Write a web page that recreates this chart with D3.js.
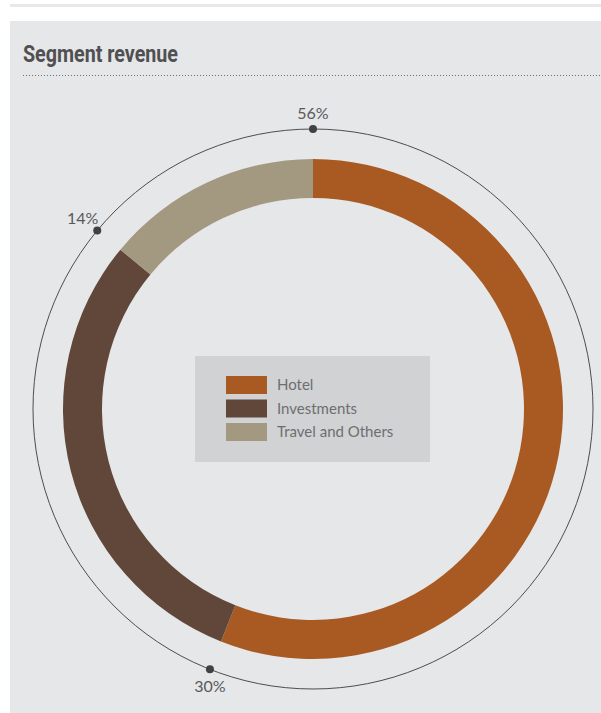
<!DOCTYPE html>
<html>
<head>
<meta charset="utf-8">
<script src="https://cdn.jsdelivr.net/npm/d3@7"></script>
<style>
  body { margin: 0; background: #ffffff; }
  svg { display: block; }
</style>
</head>
<body>
<script>
// Data
var segments = ["Hotel", "Investments", "Travel and Others"];
var shares = [56, 30, 14];
var colors = ["#a85a22", "#61473a", "#a39880"];

var width = 601, height = 713;
var cx = 313, cy = 409;
var outerR = 250, innerR = 211, ringR = 280;

var svg = d3.select("body").append("svg")
  .attr("width", width)
  .attr("height", height);

// top rule + panel
svg.append("rect").attr("x", 10).attr("y", 4).attr("width", width - 10).attr("height", 3).attr("fill", "#e8e8e8");
svg.append("rect").attr("x", 10).attr("y", 21).attr("width", width - 10).attr("height", height - 21).attr("fill", "#e6e7e8");

// title
svg.append("text")
  .attr("x", 23).attr("y", 62)
  .attr("font-family", "'Liberation Sans Narrow', 'Roboto', sans-serif")
  .attr("font-weight", "bold")
  .attr("font-size", "23px")
  .attr("fill", "#505052")
  .attr("textLength", 155)
  .attr("lengthAdjust", "spacingAndGlyphs")
  .text("Segment revenue");

svg.append("line")
  .attr("x1", 23).attr("x2", width).attr("y1", 75.5).attr("y2", 75.5)
  .attr("stroke", "#6d6e71").attr("stroke-width", 1)
  .attr("stroke-dasharray", "1,2");

var data = segments.map(function(s, i) { return {name: s, value: shares[i], color: colors[i]}; });

var pie = d3.pie().sort(null).value(function(d) { return d.value; });
var arcs = pie(data);

var arc = d3.arc().innerRadius(innerR).outerRadius(outerR);

var g = svg.append("g").attr("transform", "translate(" + cx + "," + cy + ")");

// outer thin ring
g.append("circle").attr("r", ringR).attr("fill", "none").attr("stroke", "#4d4d4f").attr("stroke-width", 1);

g.selectAll("path.seg")
  .data(arcs)
  .enter()
  .append("path")
  .attr("class", "seg")
  .attr("d", arc)
  .attr("fill", function(d) { return d.data.color; });

// markers at segment starts
function pos(a, r) { return [r * Math.sin(a), -r * Math.cos(a)]; }

g.selectAll("circle.dot")
  .data(arcs)
  .enter()
  .append("circle")
  .attr("class", "dot")
  .attr("cx", function(d) { return pos(d.startAngle, ringR)[0]; })
  .attr("cy", function(d) { return pos(d.startAngle, ringR)[1]; })
  .attr("r", 4)
  .attr("fill", "#414042");

// label placement per segment
var labelOffsets = [
  {dx: 0, dy: -10, anchor: "middle"},
  {dx: 0, dy: 23, anchor: "middle"},
  {dx: 1, dy: -7, anchor: "end"}
];

g.selectAll("text.pct")
  .data(arcs)
  .enter()
  .append("text")
  .attr("class", "pct")
  .attr("x", function(d, i) { return pos(d.startAngle, ringR)[0] + labelOffsets[i].dx; })
  .attr("y", function(d, i) { return pos(d.startAngle, ringR)[1] + labelOffsets[i].dy; })
  .attr("text-anchor", function(d, i) { return labelOffsets[i].anchor; })
  .attr("font-family", "Lato, 'Open Sans', sans-serif")
  .attr("font-size", "16px")
  .attr("fill", "#58595b")
  .text(function(d) { return d.data.value + "%"; });

// legend
var legend = svg.append("g").attr("transform", "translate(195,356)");
legend.append("rect").attr("width", 235).attr("height", 106).attr("fill", "#d1d2d4");

var items = legend.selectAll("g.item")
  .data(data)
  .enter()
  .append("g")
  .attr("class", "item")
  .attr("transform", function(d, i) { return "translate(31," + (20 + i * 23.5) + ")"; });

items.append("rect").attr("width", 41).attr("height", 18).attr("fill", function(d) { return d.color; });
items.append("text")
  .attr("x", 51).attr("y", 14)
  .attr("font-family", "Lato, 'Open Sans', sans-serif")
  .attr("font-size", "15px")
  .attr("fill", "#6d6e71")
  .text(function(d) { return d.name; });
</script>
</body>
</html>
